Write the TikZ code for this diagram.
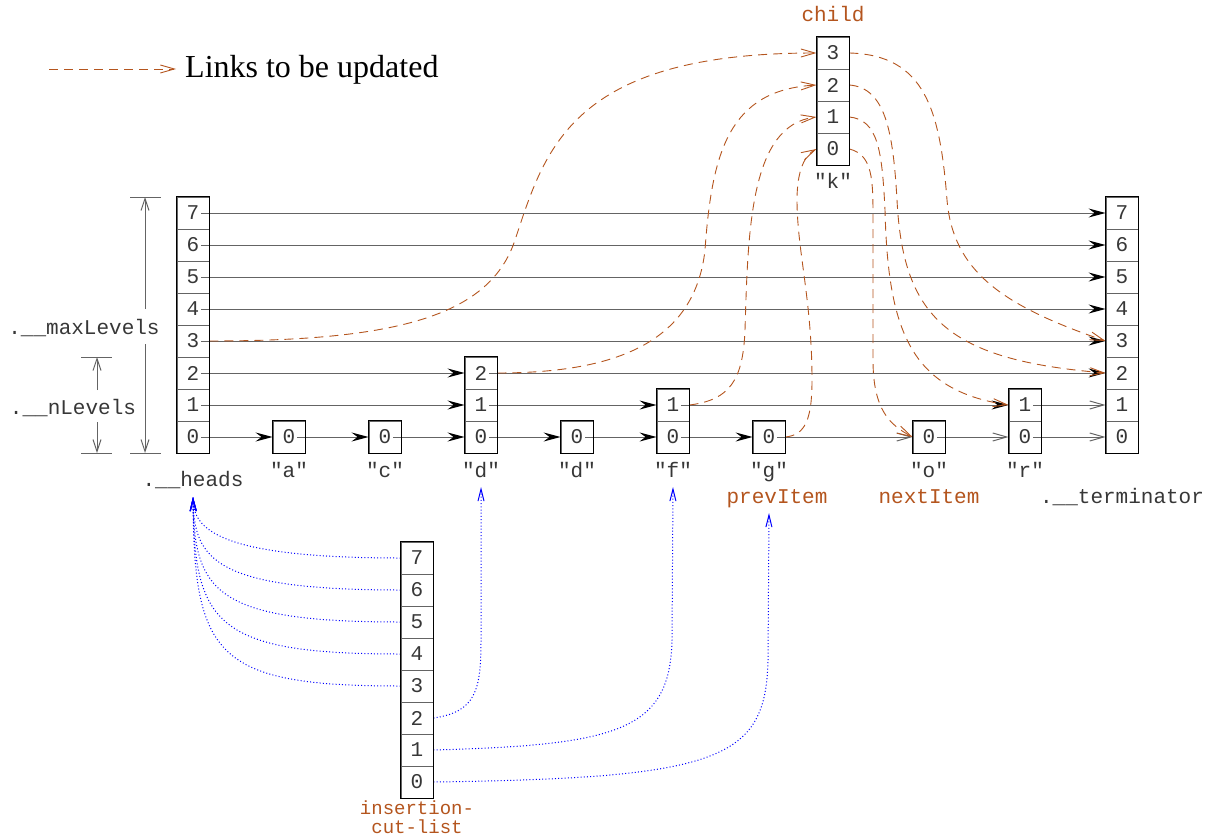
\documentclass[tikz,border=0pt]{standalone}
\usepackage{fontspec}
\setmainfont{Liberation Serif}
\newfontfamily\monofam{Liberation Mono}
\usetikzlibrary{arrows.meta}
\definecolor{linkc}{RGB}{180,85,30}
\definecolor{cutc}{RGB}{0,0,255}
\definecolor{linec}{RGB}{100,100,100}
\definecolor{txtc}{RGB}{55,55,55}
\tikzset{
  mono/.style={font=\monofam\fontsize{21}{21}\selectfont, text=txtc},
  cell/.style={draw=linec, line width=0.9pt, minimum width=32pt, minimum height=32pt, inner sep=0pt, mono},
  outer/.style={draw=black, line width=1.5pt},
  nxt/.style={draw=linec, line width=1pt, -{Stealth[length=17pt,width=9pt,inset=6pt,color=black]}},
  nxto/.style={draw=linec, line width=1pt, -{Straight Barb[length=14pt,width=8pt]}},
  upd/.style={draw=linkc, line width=0.9pt, dash pattern=on 9pt off 6pt, -{Straight Barb[length=14pt,width=8pt]}},
  cut/.style={draw=cutc, line width=1pt, dash pattern=on 1pt off 2.2pt, -{Straight Barb[length=12pt,width=6pt]}},
  dim/.style={draw=linec, line width=1pt},
  dima/.style={dim, -{Straight Barb[length=12pt,width=8pt]}},
  lab/.style={mono, anchor=base, inner sep=0pt},
  olab/.style={lab, text=linkc},
}
\begin{document}
\begin{tikzpicture}[x=1pt,y=-1pt]
\useasboundingbox (0,0) rectangle (1220,840);

% towers
\foreach \i in {0,...,7} {
  \node[cell] (h\i) at (193,{437-32*\i}) {\i};
  \node[cell] (t\i) at (1122,{437-32*\i}) {\i};
  \node[cell] (u\i) at (417,{782-32*\i}) {\i};
}
\foreach \i in {0,...,3} { \node[cell] (k\i) at (833,{149-32*\i}) {\i}; }
\foreach \i in {0,...,2} { \node[cell] (d\i) at (481,{437-32*\i}) {\i}; }
\foreach \i in {0,1} {
  \node[cell] (f\i) at (673,{437-32*\i}) {\i};
  \node[cell] (r\i) at (1025,{437-32*\i}) {\i};
}
\node[cell] (a0) at (289,437) {0};
\node[cell] (c0) at (385,437) {0};
\node[cell] (e0) at (577,437) {0};
\node[cell] (g0) at (769,437) {0};
\node[cell] (o0) at (929,437) {0};

% labels
\node[olab] (lchild) at (833,22) {child};
\node[lab] (lk) at (833,188) {"k"};
\node[lab] (lh) at (193,486) {.\_\_heads};
\node[lab] (la) at (289,477) {"a"};
\node[lab] (lc) at (385,477) {"c"};
\node[lab] (ld) at (481,477) {"d"};
\node[lab] (le) at (577,477) {"d"};
\node[lab] (lf) at (673,477) {"f"};
\node[lab] (lg) at (769,477) {"g"};
\node[lab] (lo) at (929,477) {"o"};
\node[lab] (lr) at (1025,477) {"r"};
\node[lab] (lt) at (1122,503) {.\_\_terminator};
\node[olab] (lprev) at (777,503) {prevItem};
\node[olab] (lnext) at (929,503) {nextItem};
\node[olab, anchor=north, align=center, font=\monofam\fontsize{19}{19}\selectfont] (lins) at (417,801) {insertion-\\cut-list};
\node[lab] (lmax) at (84,334) {.\_\_maxLevels};
\node[lab] (lnl) at (73,414) {.\_\_nLevels};
\node[anchor=base west, inner sep=0pt, font=\fontsize{32}{32}\selectfont] (leg) at (185,78) {Links to be updated};

% legend arrow
\coordinate (lg1) at (49,69);
\coordinate (lg2) at (176,69);
\draw[upd] (lg1) -- (lg2);

% dimension marks
\coordinate (m1) at (130,197); \coordinate (m2) at (161,197);
\coordinate (m3) at (130,453); \coordinate (m4) at (161,453);
\coordinate (mt) at (145,197); \coordinate (mb) at (145,453);
\coordinate (ma) at (145,309); \coordinate (mc) at (145,344);
\draw[dim] (m1) -- (m2);
\draw[dim] (m3) -- (m4);
\draw[dima] (ma) -- (mt);
\draw[dima] (mc) -- (mb);
\coordinate (n1) at (81,357); \coordinate (n2) at (112,357);
\coordinate (n3) at (81,453); \coordinate (n4) at (112,453);
\coordinate (nt) at (97,357); \coordinate (nb) at (97,453);
\coordinate (na) at (97,390); \coordinate (nc) at (97,422);
\draw[dim] (n1) -- (n2);
\draw[dim] (n3) -- (n4);
\draw[dima] (na) -- (nt);
\draw[dima] (nc) -- (nb);

% forward links
\foreach \i in {3,...,7} { \draw[nxt] ([xshift=8pt]h\i.center) -- (t\i.west); }
\draw[nxt] ([xshift=8pt]h2.center) -- (d2.west);
\draw[nxt] ([xshift=8pt]d2.center) -- (t2.west);
\draw[nxt] ([xshift=8pt]h1.center) -- (d1.west);
\draw[nxt] ([xshift=8pt]d1.center) -- (f1.west);
\draw[nxt] ([xshift=8pt]f1.center) -- (r1.west);
\draw[nxto] ([xshift=8pt]r1.center) -- (t1.west);
\draw[nxt] ([xshift=8pt]h0.center) -- (a0.west);
\draw[nxt] ([xshift=8pt]a0.center) -- (c0.west);
\draw[nxt] ([xshift=8pt]c0.center) -- (d0.west);
\draw[nxt] ([xshift=8pt]d0.center) -- (e0.west);
\draw[nxt] ([xshift=8pt]e0.center) -- (f0.west);
\draw[nxt] ([xshift=8pt]f0.center) -- (g0.west);
\draw[nxto] ([xshift=8pt]g0.center) -- (o0.west);
\draw[nxto] ([xshift=8pt]o0.center) -- (r0.west);
\draw[nxto] ([xshift=8pt]r0.center) -- (t0.west);

% links to be updated
\draw[upd] (h3.east) .. controls (400,341) and (490,315) .. (515,240) .. controls (545,150) and (570,53) .. (k3.west);
\draw[upd] (d2.east) .. controls (620,373) and (695,340) .. (705,250) .. controls (712,150) and (730,90) .. (k2.west);
\draw[upd] (f1.east) .. controls (730,400) and (743,380) .. (745,330) .. controls (748,230) and (750,125) .. (k1.west);
\draw[upd] (g0.east) .. controls (805,435) and (812,420) .. (812,380) .. controls (812,300) and (797,250) .. (797,200) .. controls (797,170) and (805,155) .. (k0.west);
\draw[upd] (k3.east) .. controls (925,55) and (940,110) .. (947,200) .. controls (953,270) and (1000,305) .. (t3.west);
\draw[upd] (k2.east) .. controls (885,88) and (893,130) .. (897,200) .. controls (903,320) and (950,360) .. (t2.west);
\draw[upd] (k1.east) .. controls (878,120) and (882,150) .. (885,210) .. controls (888,330) and (910,390) .. (r1.west);
\draw[upd] (k0.east) .. controls (873,155) and (873,180) .. (873,220) -- (873,360) .. controls (873,410) and (890,425) .. (o0.west);

% insertion cut list
\coordinate (hp) at (193,497);
\coordinate (dp) at (481,487);
\coordinate (fp) at (673,487);
\coordinate (pv) at (769,513);
\foreach \i in {3,...,7} {
  \draw[cut] (u\i.west) .. controls (215,{782-32*\i}) and (194,{752-32*\i}) .. (hp);
}
\draw[cut] (u2.east) .. controls (476,712) and (481,690) .. (481,640) -- (dp);
\draw[cut] (u1.east) .. controls (620,745) and (670,730) .. (672,640) -- (fp);
\draw[cut] (u0.east) .. controls (720,778) and (766,760) .. (768,660) -- (pv);

% outer borders
\draw[outer] (h0.south west) rectangle (h7.north east);
\draw[outer] (t0.south west) rectangle (t7.north east);
\draw[outer] (u0.south west) rectangle (u7.north east);
\draw[outer] (k0.south west) rectangle (k3.north east);
\draw[outer] (d0.south west) rectangle (d2.north east);
\draw[outer] (f0.south west) rectangle (f1.north east);
\draw[outer] (r0.south west) rectangle (r1.north east);
\draw[outer] (a0.south west) rectangle (a0.north east);
\draw[outer] (c0.south west) rectangle (c0.north east);
\draw[outer] (e0.south west) rectangle (e0.north east);
\draw[outer] (g0.south west) rectangle (g0.north east);
\draw[outer] (o0.south west) rectangle (o0.north east);
\end{tikzpicture}
\end{document}
